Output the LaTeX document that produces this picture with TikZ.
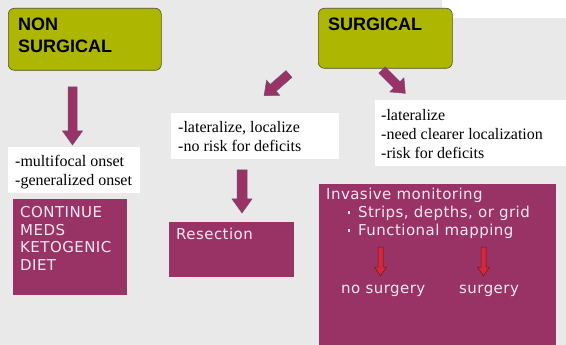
\documentclass[tikz,border=0pt]{standalone}
\usepackage{fontspec}
\setmainfont{Liberation Serif}
\newfontfamily\boxsans{DejaVu Sans}[LetterSpace=3]
\newfontfamily\headsans{Liberation Sans}
\definecolor{bg}{RGB}{233,233,233}
\definecolor{olivefill}{RGB}{173,182,0}
\definecolor{oliveedge}{RGB}{80,80,40}
\definecolor{plum}{RGB}{153,51,102}
\definecolor{plumedge}{RGB}{110,80,120}
\definecolor{acttextcol}{RGB}{246,232,240}
\definecolor{redarr}{RGB}{212,40,58}
\definecolor{rededge}{RGB}{110,20,30}
\newcommand\blockarrow[8]{%
  \begin{scope}[shift={(#1,#2)},rotate=#3]
    \path[#8] (0,#5) -- ({#4-#7},#5) -- ({#4-#7},#6) -- (#4,0) -- ({#4-#7},-#6) -- ({#4-#7},-#5) -- (0,-#5) -- cycle;
  \end{scope}}
\tikzset{
  headbox/.style={draw=oliveedge, fill=olivefill, rounded corners=6pt, anchor=north west, inner sep=0pt, line width=0.6pt},
  notebox/.style={fill=white, anchor=north west, inner sep=0pt},
  actbox/.style={fill=plum, anchor=north west, inner sep=0pt},
  headtext/.style={anchor=north west, inner sep=0pt, align=left, font=\headsans\bfseries\fontsize{18}{22}\selectfont},
  notetext/.style={anchor=north west, inner sep=0pt, align=left, font=\fontsize{16}{19}\selectfont},
  acttext/.style={anchor=north west, inner sep=0pt, align=left, text=acttextcol, font=\boxsans\fontsize{15}{17.7}\selectfont},
  bulletsq/.style={fill=acttextcol, inner sep=0pt, minimum size=2.6pt, rectangle},
  plumarrow/.style={fill=plum, draw=plumedge, line width=0.5pt},
  redarrow/.style={fill=redarr, draw=rededge, line width=0.5pt},
}
\begin{document}
\begin{tikzpicture}[x=1pt,y=1pt]
\useasboundingbox (0,0) rectangle (566,-345);
\fill[bg] (0,0) rectangle (566,-345);
\fill[white] (442,0) rectangle (566,-18);

% boxes
\node[headbox, minimum width=153pt, minimum height=62pt] (nonbox) at (8,-8) {};
\node[headbox, minimum width=134pt, minimum height=60pt] (surgbox) at (318,-8) {};
\node[notebox, minimum width=132pt, minimum height=46pt] (leftnote) at (8,-147) {};
\node[notebox, minimum width=168pt, minimum height=46pt] (midnote) at (171,-113) {};
\node[notebox, minimum width=191pt, minimum height=66pt] (rightnote) at (375,-100) {};
\node[actbox, minimum width=114pt, minimum height=96pt] (contbox) at (13,-199) {};
\node[actbox, minimum width=125pt, minimum height=55pt] (resbox) at (169,-222) {};
\node[actbox, minimum width=237pt, minimum height=162pt] (invbox) at (319,-184) {};

% texts
\node[headtext] (nontxt) at (18,-18) {NON\\SURGICAL};
\node[headtext] (surgtxt) at (328,-18) {SURGICAL};
\node[notetext] (lefttxt) at (15,-155) {-multifocal onset\\-generalized onset};
\node[notetext] (midtxt) at (178,-121) {-lateralize, localize\\-no risk for deficits};
\node[notetext] (righttxt) at (381,-109) {-lateralize\\-need clearer localization\\-risk for deficits};
\node[acttext] (conttxt) at (20,-206) {CONTINUE\\MEDS\\KETOGENIC\\DIET};
\node[acttext] (restxt) at (176,-228) {Resection};
\node[acttext] (invtxt) at (326,-188) {Invasive monitoring};
\node[bulletsq] (bul1) at (349,-212.5) {};
\node[acttext] (strips) at (358,-206) {Strips, depths, or grid};
\node[bulletsq] (bul2) at (349,-230.5) {};
\node[acttext] (func) at (358,-224) {Functional mapping};
\node[acttext, anchor=base west] (nosurg) at (341,-293) {no surgery};
\node[acttext, anchor=base west] (surg) at (459,-293) {surgery};

% block arrows
\blockarrow{72.5}{-87}{-90}{58}{4.5}{10}{14}{plumarrow}
\blockarrow{242}{-170}{-90}{43}{5}{10}{14}{plumarrow}
\blockarrow{289}{-74}{221}{33}{4.5}{10}{12}{plumarrow}
\blockarrow{382}{-70}{-45}{33}{4.5}{10}{12}{plumarrow}
\blockarrow{380.5}{-247}{-90}{29}{2.5}{6}{9}{redarrow}
\blockarrow{483.5}{-247}{-90}{29}{2.5}{6}{9}{redarrow}
\end{tikzpicture}
\end{document}
